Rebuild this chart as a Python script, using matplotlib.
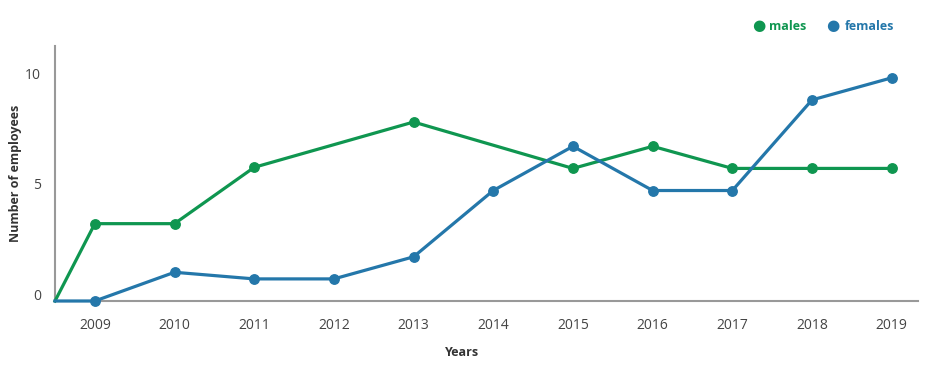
import numpy as np
from matplotlib import pyplot as plt
from matplotlib import transforms

plt.rcParams['font.family'] = ['Open Sans', 'DejaVu Sans']

years = [2009, 2010, 2011, 2012, 2013, 2014, 2015, 2016, 2017, 2018, 2019]
males = [3.5, 3.5, 6.05, np.nan, 8.1, np.nan, 6.0, 7.0, 6.0, 6.0, 6.0]
females = [0, 1.3, 1.0, 1.0, 2.0, 5.0, 7.0, 5.0, 5.0, 9.1, 10.1]
# both lines start from zero at the left edge of the axis
x_start = 2008.5
start_value = 0

green = '#0f9650'
blue = '#2477aa'

fig = plt.figure(figsize=(9.4, 3.69), dpi=100)
ax = fig.add_axes([55 / 940, 68 / 369, 863 / 940, 255 / 369])

for vals, color, name in [(males, green, 'males'), (females, blue, 'females')]:
    x = np.array([x_start] + years, dtype=float)
    y = np.array([start_value] + vals, dtype=float)
    ok = ~np.isnan(y)
    ax.plot(x[ok], y[ok], color=color, lw=2.3, zorder=3, clip_on=False)
    v = np.array(vals, dtype=float)
    ax.plot(np.array(years)[~np.isnan(v)], v[~np.isnan(v)],
            'o', color=color, ms=6.8, zorder=4, clip_on=False, label=name)

ax.set_xlim(2008.5, 2019.33)
ax.set_ylim(0, 11.54)
ax.set_xticks(years)
ax.set_xticklabels([str(y) for y in years])
ax.set_yticks([0, 5, 10])

for s in ['top', 'right']:
    ax.spines[s].set_visible(False)
for s in ['left', 'bottom']:
    ax.spines[s].set_color('#999999')
    ax.spines[s].set_linewidth(1.5)

ax.tick_params(axis='both', length=0, labelsize=10, labelcolor='#444444')
ax.tick_params(axis='x', pad=12)
ax.tick_params(axis='y', pad=10)
offset = transforms.ScaledTranslation(0, 7 / 100, fig.dpi_scale_trans)
for lab in ax.get_yticklabels():
    lab.set_transform(lab.get_transform() + offset)

ax.set_ylabel('Number of employees', fontsize=9, fontweight='bold', color='#333333')
ax.yaxis.set_label_coords((16 - 55) / 863, 0.5)
ax.yaxis.label.set_va('center')
ax.set_xlabel('Years', fontsize=9, fontweight='bold', color='#333333')
ax.xaxis.set_label_coords((462 - 55) / 863, -(352 - 301) / 255)
ax.xaxis.label.set_va('center')

# legend as coloured dots + bold coloured text
fig.text(759 / 940, 1 - 27 / 369, '\u25CF', color=green, fontsize=11, ha='center', va='center')
fig.text(769 / 940, 1 - 27 / 369, 'males', color=green, fontsize=9, fontweight='bold', va='center')
fig.text(833 / 940, 1 - 27 / 369, '\u25CF', color=blue, fontsize=11, ha='center', va='center')
fig.text(845 / 940, 1 - 27 / 369, 'females', color=blue, fontsize=9, fontweight='bold', va='center')

fig.savefig('out.png', dpi=100)
